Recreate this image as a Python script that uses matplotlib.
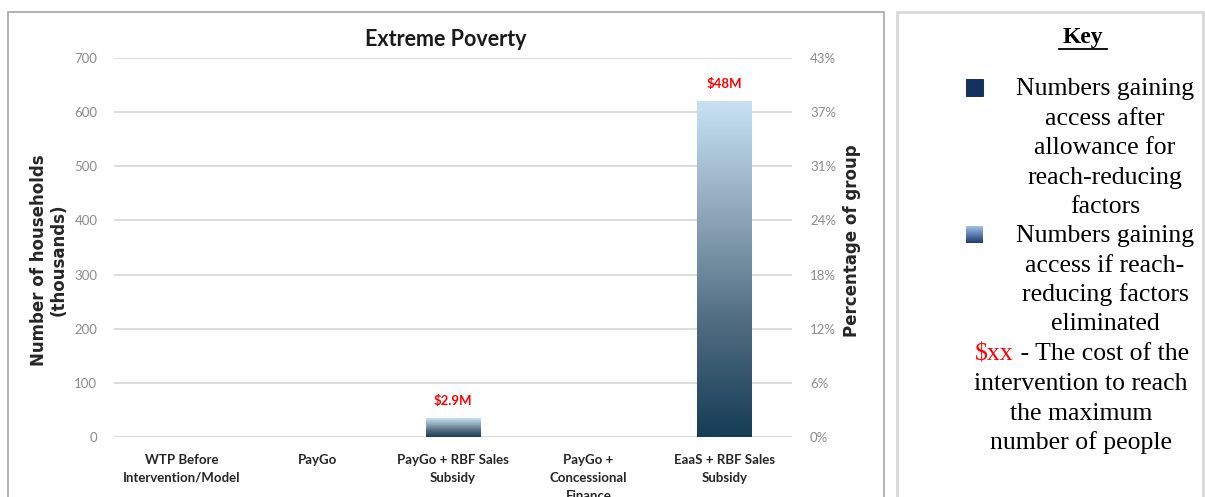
import numpy as np
import matplotlib
matplotlib.use("Agg")
import matplotlib.pyplot as plt
from matplotlib.colors import LinearSegmentedColormap
from matplotlib.patches import Rectangle
from matplotlib.lines import Line2D

# data
categories = ["WTP Before\nIntervention/Model", "PayGo", "PayGo + RBF Sales\nSubsidy",
              "PayGo +\nConcessional\nFinance", "EaaS + RBF Sales\nSubsidy"]
households = [0, 0, 35, 0, 620]
cost_labels = ["", "", "$2.9M", "", "$48M"]
left_ticks = [0, 100, 200, 300, 400, 500, 600, 700]
pct_labels = ["0%", "6%", "12%", "18%", "24%", "31%", "37%", "43%"]

key_lines_1 = ["Numbers gaining", "access after", "allowance for", "reach-reducing", "factors"]
key_lines_2 = ["Numbers gaining", "access if reach-", "reducing factors", "eliminated"]
key_lines_3 = ["intervention to reach", "the maximum", "number of people"]

W, H = 1205, 497
fig = plt.figure(figsize=(W / 100, H / 100), dpi=100)


def fx(px):
    return px / W


def fy(py):
    return 1 - py / H


sans = "Lato"
serif = "Liberation Serif"

# outer boxes
fig.add_artist(Rectangle((fx(8), fy(560)), fx(884 - 8), (560 - 12) / H, transform=fig.transFigure,
                         fill=False, edgecolor="#a6a6a6", lw=1.2))
fig.add_artist(Rectangle((fx(897), fy(560)), fx(1203 - 897), (560 - 12) / H, transform=fig.transFigure,
                         fill=False, edgecolor="#d9d9d9", lw=2))

ax = fig.add_axes([fx(114), fy(437), fx(792 - 114), (437 - 58) / H])
x = np.arange(len(categories))
bars = ax.bar(x, households, width=0.4, color="none", edgecolor="none", zorder=2)

cmap = LinearSegmentedColormap.from_list("bar", ["#153d56", "#4f6b80", "#8ea7b9", "#c6e2f2"])
grad = np.linspace(0, 1, 256).reshape(-1, 1)
for rect, lab in zip(bars, cost_labels):
    h = rect.get_height()
    if h <= 0:
        continue
    x0 = rect.get_x()
    ax.imshow(grad, extent=(x0, x0 + rect.get_width(), 0, h), origin="lower",
              cmap=cmap, aspect="auto", zorder=2)
    ax.annotate(lab, (rect.get_x() + rect.get_width() / 2, h), xytext=(0, 8),
                textcoords="offset points", ha="center", va="bottom",
                color="#ff0000", fontsize=9.5, fontweight="bold", family=sans)

ax.set_xlim(-0.5, len(categories) - 0.5)
ax.set_ylim(0, 700)
ax.set_yticks(left_ticks)
ax.set_xticks(x)
ax.set_xticklabels(categories, fontsize=9.5, fontweight="bold", family=sans,
                   color="#262626", linespacing=1.6)
ax.tick_params(axis="x", length=0, pad=12)
ax.tick_params(axis="y", length=0, pad=12, labelsize=9.5, labelcolor="#8c8c8c")
for t in ax.get_yticklabels():
    t.set_family(sans)
ax.grid(axis="y", color="#d9d9d9", lw=1.3, zorder=0)
ax.set_axisbelow(True)
for s in ax.spines.values():
    s.set_visible(False)

ax2 = ax.twinx()
ax2.set_ylim(0, 700)
ax2.set_yticks(left_ticks)
ax2.set_yticklabels(pct_labels, family=sans)
ax2.tick_params(axis="y", length=0, pad=13, labelsize=9.5, labelcolor="#8c8c8c")
for s in ax2.spines.values():
    s.set_visible(False)

fig.text(fx(49), fy(260), "Number of households\n(thousands)", rotation=90, ha="center", va="center",
         fontsize=12, fontweight="bold", family="DejaVu Sans", color="#262626", linespacing=1.1)
fig.text(fx(852), fy(241), "Percentage of group", rotation=90, ha="center", va="center",
         fontsize=12, fontweight="bold", family="DejaVu Sans", color="#262626")

fig.text(fx(446), fy(40), "Extreme Poverty", ha="center", va="center", fontsize=15.5,
         fontweight="bold", family=sans, color="#1a1a1a")

# key panel
fig.text(fx(1083), fy(38), "Key", ha="center", va="center", fontsize=17, fontweight="bold",
         family=serif)
fig.add_artist(Line2D([fx(1059), fx(1107)], [fy(49), fy(49)], transform=fig.transFigure,
                      color="black", lw=1.3))

fig.add_artist(Rectangle((fx(966), fy(96)), fx(17), 17 / H, transform=fig.transFigure,
                         facecolor="#14305f", edgecolor="#0b1f40", lw=0.6))
kax = fig.add_axes([fx(966), fy(243), fx(17), 17 / H])
kax.imshow(grad, origin="lower", aspect="auto",
           cmap=LinearSegmentedColormap.from_list("key", ["#1f3a68", "#5d7fae", "#a3c2ea"]))
kax.set_axis_off()

line_h = 29.5
for i, line in enumerate(key_lines_1):
    fig.text(fx(1105), fy(89 + i * line_h), line, ha="center", va="center", fontsize=18.5, family=serif)
for i, line in enumerate(key_lines_2):
    fig.text(fx(1105), fy(236 + i * line_h), line, ha="center", va="center", fontsize=18.5, family=serif)
fig.text(fx(1014), fy(354), "$xx", ha="right", va="center", fontsize=18.5, family=serif, color="#ff0000")
fig.text(fx(1014), fy(354), " - The cost of the", ha="left", va="center", fontsize=18.5, family=serif)
for i, line in enumerate(key_lines_3):
    fig.text(fx(1081), fy(384 + i * line_h), line, ha="center", va="center", fontsize=18.5, family=serif)

fig.savefig("out.png", dpi=100)
